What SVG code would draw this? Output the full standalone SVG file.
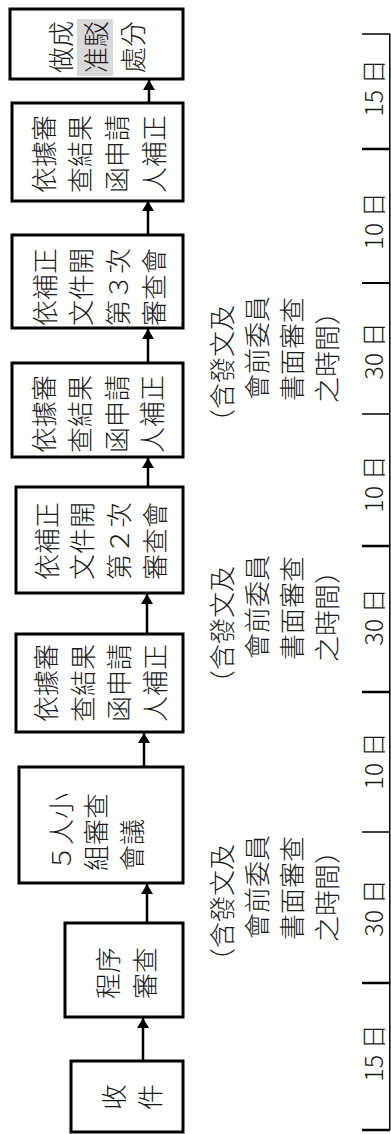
<svg xmlns="http://www.w3.org/2000/svg" width="391" height="1134" viewBox="0 0 391 1134">
<style>
.box{fill:#fff;stroke:#000;stroke-width:3}
.t{font-family:"Noto Sans CJK TC","Noto Sans CJK JP",sans-serif;font-size:26px;font-weight:300;fill:#1a1a1a;dominant-baseline:central}
.m{text-anchor:middle}
.s{text-anchor:start}
.lbl{font-family:"Noto Sans CJK TC","Noto Sans CJK JP",sans-serif;font-size:25px;font-weight:300;fill:#1a1a1a;dominant-baseline:central;text-anchor:middle}
.conn{stroke:#000;stroke-width:2.5;fill:none}
.scale{stroke:#000;fill:none}
</style>
<defs>
<marker id="ah" markerUnits="userSpaceOnUse" markerWidth="12" markerHeight="12" refX="10" refY="6" orient="auto">
<path d="M0,0 L10,6 L0,12 z" fill="#000"/>
</marker>
</defs>

<g id="n1">
<rect class="box" x="10" y="9" width="173" height="70"/>
<rect x="77" y="19" width="36" height="57" fill="#d9d9d9"/>
<text class="t m" transform="translate(59,47) rotate(-90)">做成</text>
<text class="t m" transform="translate(94,47) rotate(-90)">准駁</text>
<text class="t m" transform="translate(131,47) rotate(-90)">處分</text>
</g>

<g id="n2">
<rect class="box" x="12" y="103" width="171" height="98"/>
<text class="t m" transform="translate(42,154) rotate(-90)">依據審</text>
<text class="t m" transform="translate(78,154) rotate(-90)">查結果</text>
<text class="t m" transform="translate(115,154) rotate(-90)">函申請</text>
<text class="t m" transform="translate(152,154) rotate(-90)">人補正</text>
</g>

<g id="n3">
<rect class="box" x="12" y="235" width="171" height="93"/>
<text class="t m" transform="translate(43,287) rotate(-90)">依補正</text>
<text class="t m" transform="translate(79,287) rotate(-90)">文件開</text>
<text class="t m" transform="translate(116,287) rotate(-90)">第３次</text>
<text class="t m" transform="translate(152,287) rotate(-90)">審查會</text>
</g>

<g id="n4">
<rect class="box" x="12" y="363" width="171" height="94"/>
<text class="t m" transform="translate(42,414) rotate(-90)">依據審</text>
<text class="t m" transform="translate(78,414) rotate(-90)">查結果</text>
<text class="t m" transform="translate(115,414) rotate(-90)">函申請</text>
<text class="t m" transform="translate(150,414) rotate(-90)">人補正</text>
</g>

<g id="n5">
<rect class="box" x="16" y="487" width="167" height="106"/>
<text class="t m" transform="translate(45,541) rotate(-90)">依補正</text>
<text class="t m" transform="translate(80,541) rotate(-90)">文件開</text>
<text class="t m" transform="translate(117,541) rotate(-90)">第２次</text>
<text class="t m" transform="translate(153,541) rotate(-90)">審查會</text>
</g>

<g id="n6">
<rect class="box" x="16" y="634" width="167" height="98"/>
<text class="t m" transform="translate(44,683) rotate(-90)">依據審</text>
<text class="t m" transform="translate(81,683) rotate(-90)">查結果</text>
<text class="t m" transform="translate(117,683) rotate(-90)">函申請</text>
<text class="t m" transform="translate(153,683) rotate(-90)">人補正</text>
</g>

<g id="n7">
<rect class="box" x="19" y="767" width="164" height="116"/>
<text class="t s" transform="translate(59,871) rotate(-90)">５人小</text>
<text class="t s" transform="translate(94,871) rotate(-90)">組審查</text>
<text class="t s" transform="translate(130,871) rotate(-90)">會議</text>
</g>

<g id="n8">
<rect class="box" x="65" y="923" width="118" height="94"/>
<text class="t m" transform="translate(106,973) rotate(-90)">程序</text>
<text class="t m" transform="translate(143,973) rotate(-90)">審查</text>
</g>

<g id="n9">
<rect class="box" x="71" y="1061" width="112" height="71"/>
<text class="t m" transform="translate(112,1097) rotate(-90)">收</text>
<text class="t m" transform="translate(148,1097) rotate(-90)">件</text>
</g>

<g id="connectors">
<line class="conn" x1="149" y1="103" x2="149" y2="80" marker-end="url(#ah)"/>
<line class="conn" x1="148" y1="235" x2="148" y2="201" marker-end="url(#ah)"/>
<line class="conn" x1="148" y1="363" x2="148" y2="329" marker-end="url(#ah)"/>
<line class="conn" x1="148" y1="487" x2="148" y2="458" marker-end="url(#ah)"/>
<line class="conn" x1="147" y1="634" x2="147" y2="594" marker-end="url(#ah)"/>
<line class="conn" x1="144" y1="767" x2="144" y2="733" marker-end="url(#ah)"/>
<line class="conn" x1="147" y1="923" x2="147" y2="884" marker-end="url(#ah)"/>
<line class="conn" x1="143" y1="1061" x2="143" y2="1018" marker-end="url(#ah)"/>
</g>

<g id="notes">
<text class="t s" transform="translate(220,435) rotate(-90)">（含發文及</text>
<text class="t s" transform="translate(255,400) rotate(-90)">會前委員</text>
<text class="t s" transform="translate(290,401) rotate(-90)">書面審查</text>
<text class="t s" transform="translate(325,403) rotate(-90)">之時間）</text>

<text class="t s" transform="translate(220,696) rotate(-90)">（含發文及</text>
<text class="t s" transform="translate(255,659) rotate(-90)">會前委員</text>
<text class="t s" transform="translate(290,660) rotate(-90)">書面審查</text>
<text class="t s" transform="translate(325,662) rotate(-90)">之時間）</text>

<text class="t s" transform="translate(220,974) rotate(-90)">（含發文及</text>
<text class="t s" transform="translate(255,939) rotate(-90)">會前委員</text>
<text class="t s" transform="translate(290,940) rotate(-90)">書面審查</text>
<text class="t s" transform="translate(325,942) rotate(-90)">之時間）</text>
</g>

<g id="timescale">
<line class="scale" x1="389.8" y1="34" x2="389.8" y2="1130" stroke-width="1.5"/>
<line class="scale" x1="362" y1="34" x2="390" y2="34" stroke-width="1.5"/>
<line class="scale" x1="362" y1="149" x2="390" y2="149" stroke-width="2.5"/>
<line class="scale" x1="362" y1="283" x2="390" y2="283" stroke-width="2"/>
<line class="scale" x1="362" y1="414" x2="390" y2="414" stroke-width="1.5"/>
<line class="scale" x1="362" y1="546" x2="390" y2="546" stroke-width="2.5"/>
<line class="scale" x1="362" y1="692" x2="390" y2="692" stroke-width="2.5"/>
<line class="scale" x1="362" y1="832" x2="390" y2="832" stroke-width="1.5"/>
<line class="scale" x1="362" y1="983" x2="390" y2="983" stroke-width="2.5"/>
<line class="scale" x1="362" y1="1130" x2="390" y2="1130" stroke-width="2.5"/>
<text class="lbl" transform="translate(372,88) rotate(-90)">15 日</text>
<text class="lbl" transform="translate(372,221) rotate(-90)">10 日</text>
<text class="lbl" transform="translate(372,351) rotate(-90)">30 日</text>
<text class="lbl" transform="translate(372,484) rotate(-90)">10 日</text>
<text class="lbl" transform="translate(372,617) rotate(-90)">30 日</text>
<text class="lbl" transform="translate(372,761) rotate(-90)">10 日</text>
<text class="lbl" transform="translate(372,908) rotate(-90)">30 日</text>
<text class="lbl" transform="translate(372,1053) rotate(-90)">15 日</text>
</g>
</svg>
